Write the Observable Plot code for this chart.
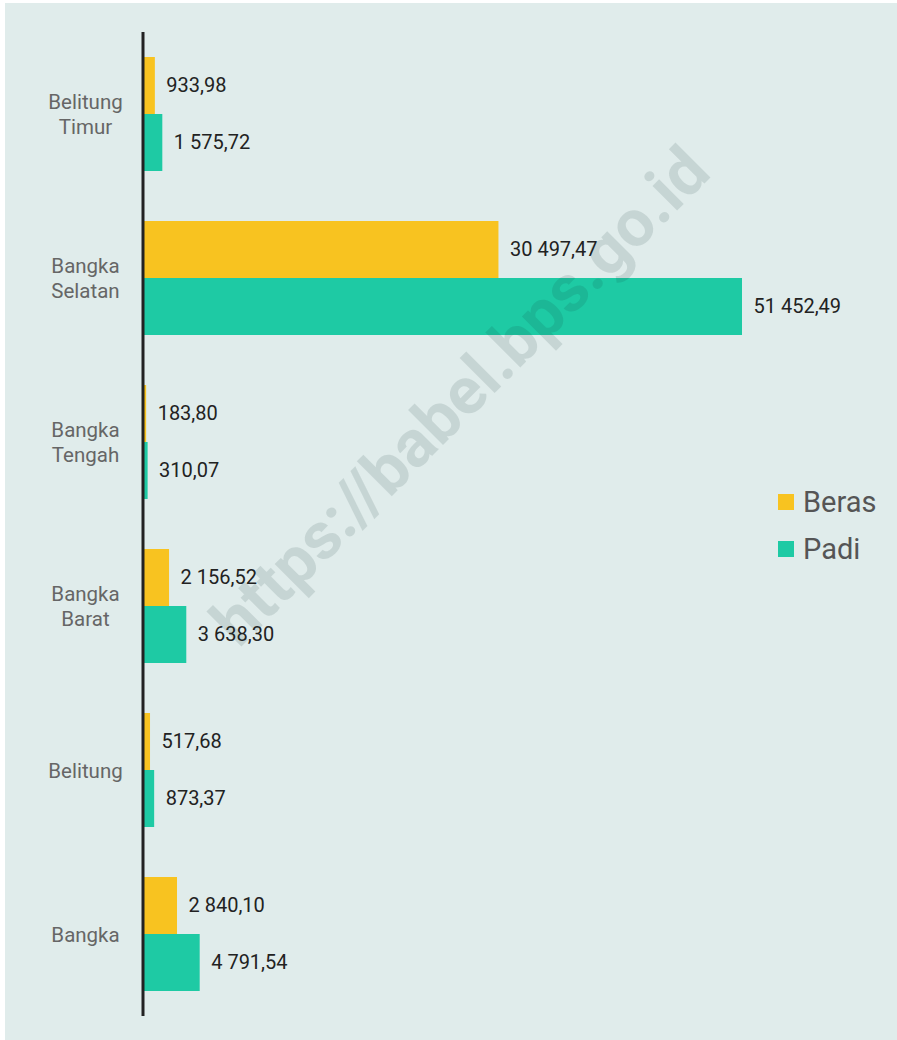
<!DOCTYPE html>
<html>
<head>
<meta charset="utf-8">
<script src="https://cdn.jsdelivr.net/npm/d3@7"></script>
<script src="https://cdn.jsdelivr.net/npm/@observablehq/plot@0.6"></script>
<style>
  html, body { margin: 0; padding: 0; background: #ffffff; }
  body { width: 897px; height: 1040px; position: relative; overflow: hidden; font-family: Roboto, "Noto Sans", sans-serif; }
  #wrap { position: absolute; left: 5px; top: 3px; width: 892px; height: 1037px; background: #e0eceb; }
  #chart svg { display: block; background: transparent; }
  #legend { position: absolute; left: 773px; top: 475px; font-size: 29px; color: #555; }
  .item { display: flex; align-items: center; height: 47px; }
  .sw { width: 16px; height: 16px; margin-right: 9px; }
  #wm { position: absolute; left: 455px; top: 393px; transform: translate(-50%, -50%) rotate(-45deg);
        font-size: 66px; font-weight: bold; color: rgba(20, 50, 50, 0.12); white-space: nowrap; pointer-events: none; }
</style>
</head>
<body>
<div id="wrap">
  <div id="chart"></div>
  <div id="legend"></div>
  <div id="wm">https://babel.bps.go.id</div>
</div>
<script>
const categories = ["Belitung Timur", "Bangka Selatan", "Bangka Tengah", "Bangka Barat", "Belitung", "Bangka"];
const series = ["Beras", "Padi"];
const beras = [933.98, 30497.47, 183.80, 2156.52, 517.68, 2840.10];
const padi = [1575.72, 51452.49, 310.07, 3638.30, 873.37, 4791.54];
const colors = ["#f8c320", "#1ecaa4"];

const rows = [];
categories.forEach((c, i) => {
  rows.push({category: c, series: "Beras", value: beras[i]});
  rows.push({category: c, series: "Padi", value: padi[i]});
});

const locale = d3.formatLocale({decimal: ",", thousands: " ", grouping: [3], currency: ["", ""]});
const fmt = locale.format(",.2f");
const xMax = d3.max(padi.concat(beras));

const chart = Plot.plot({
  width: 892,
  height: 1037,
  marginLeft: 139,
  marginRight: 155,
  marginTop: 28,
  marginBottom: 24,
  style: {fontFamily: "Roboto, 'Noto Sans', sans-serif", background: "transparent"},
  x: {domain: [0, xMax], axis: null},
  y: {domain: series, axis: null, paddingInner: 0, paddingOuter: 0.414},
  fy: {domain: categories, axis: null, padding: 0},
  color: {domain: series, range: colors},
  marks: [
    Plot.barX(rows, {x: "value", y: "series", fy: "category", fill: "series", inset: 0}),
    Plot.text(rows, {x: "value", y: "series", fy: "category", text: d => fmt(d.value),
      dx: 11, textAnchor: "start", fontSize: 20, fill: "#222"}),
    Plot.text(categories, {fy: d => d, text: d => d, frameAnchor: "left", dx: -59, dy: -1,
      textAnchor: "middle", lineWidth: 4.6, lineHeight: 1.22, fontSize: 20.5, fill: "#666"}),
    Plot.ruleX([0], {stroke: "#222", strokeWidth: 3, dx: -1.5})
  ]
});
document.getElementById("chart").appendChild(chart);

const legend = document.getElementById("legend");
series.forEach((s, i) => {
  const it = document.createElement("div");
  it.className = "item";
  const sw = document.createElement("div");
  sw.className = "sw";
  sw.style.background = colors[i];
  const t = document.createElement("span");
  t.textContent = s;
  it.appendChild(sw);
  it.appendChild(t);
  legend.appendChild(it);
});
</script>
</body>
</html>
